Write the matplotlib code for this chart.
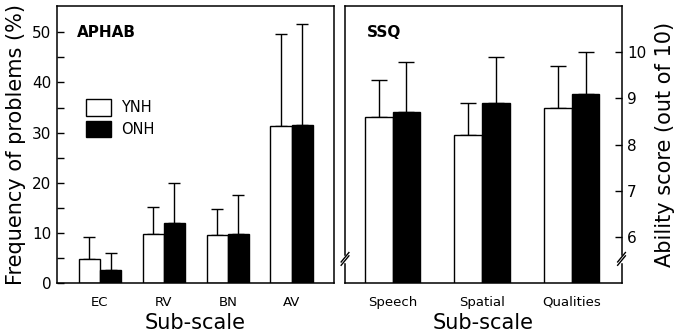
import numpy as np
import matplotlib
matplotlib.use("Agg")
from matplotlib import pyplot as plt

# APHAB sub-scales: mean and upper error (SD) per group
aphab_scales = ["EC", "RV", "BN", "AV"]
aphab_ynh = [4.8, 9.8, 9.6, 31.3]
aphab_ynh_sd = [4.4, 5.3, 5.2, 18.3]
aphab_onh = [2.6, 12.1, 9.8, 31.6]
aphab_onh_sd = [3.5, 7.9, 7.8, 20.1]

# SSQ sub-scales
ssq_scales = ["Speech", "Spatial", "Qualities"]
ssq_ynh = [8.6, 8.2, 8.8]
ssq_ynh_sd = [0.8, 0.7, 0.9]
ssq_onh = [8.7, 8.9, 9.1]
ssq_onh_sd = [1.1, 1.0, 0.9]

plt.rcParams["font.family"] = "DejaVu Sans"
plt.rcParams["axes.linewidth"] = 1.1

fig = plt.figure(figsize=(6.8, 3.32), dpi=100)
ax1 = fig.add_axes([0.0838, 0.1467, 0.4074, 0.835])
ax2 = fig.add_axes([0.5074, 0.1467, 0.4066, 0.835])


def draw_bars(ax, n, ynh, ynh_sd, onh, onh_sd, width, cap):
    x = np.arange(n)
    b1 = ax.bar(x - width / 2, ynh, width, color="white", edgecolor="black",
                linewidth=1.0, label="YNH", zorder=2)
    b2 = ax.bar(x + width / 2, onh, width, color="black", edgecolor="black",
                linewidth=1.0, label="ONH", zorder=2)
    ax.errorbar(x - width / 2, ynh, yerr=[np.zeros(n), ynh_sd], fmt="none",
                ecolor="black", elinewidth=1.0, capsize=cap, capthick=1.0, zorder=1)
    ax.errorbar(x + width / 2, onh, yerr=[np.zeros(n), onh_sd], fmt="none",
                ecolor="black", elinewidth=1.0, capsize=cap, capthick=1.0, zorder=1)
    return b1, b2


# left panel - APHAB
b1, b2 = draw_bars(ax1, len(aphab_scales), aphab_ynh, aphab_ynh_sd,
                   aphab_onh, aphab_onh_sd, 0.333, 4.3)
ax1.set_xlim(-0.67, 3.66)
ax1.set_ylim(0, 55.2)
ax1.set_yticks(np.arange(0, 51, 10))
ax1.set_yticks(np.arange(5, 55, 10), minor=True)
ax1.set_xticks(np.arange(len(aphab_scales)))
ax1.set_xticklabels(aphab_scales, fontsize=9.5)
ax1.tick_params(axis="y", which="both", direction="in", length=5, width=1.0,
                labelsize=11, pad=4)
ax1.tick_params(axis="x", length=0, pad=9)
ax1.set_ylabel("Frequency of problems (%)", fontsize=15, labelpad=4)
ax1.set_xlabel("Sub-scale", fontsize=15, labelpad=3)
ax1.text(0.071, 0.905, "APHAB", transform=ax1.transAxes, fontsize=11,
         fontweight="bold", va="center", ha="left")
ax1.legend(handles=[b1, b2], loc="upper left", bbox_to_anchor=(0.078, 0.69),
           frameon=False, fontsize=10.5, borderpad=0, handlelength=1.75,
           handleheight=1.35, labelspacing=0.35, handletextpad=0.65)

# right panel - SSQ
draw_bars(ax2, len(ssq_scales), ssq_ynh, ssq_ynh_sd, ssq_onh, ssq_onh_sd, 0.31, 5.8)
ax2.set_xlim(-0.53, 2.556)
ax2.set_ylim(5, 11.0)
ax2.yaxis.tick_right()
ax2.yaxis.set_label_position("right")
ax2.set_yticks(np.arange(6, 11, 1))
ax2.set_xticks(np.arange(len(ssq_scales)))
ax2.set_xticklabels(ssq_scales, fontsize=9.5)
ax2.tick_params(axis="y", direction="in", length=5, width=1.0, labelsize=11, pad=4)
ax2.tick_params(axis="x", length=0, pad=9)
ax2.set_ylabel("Ability score (out of 10)", fontsize=15, labelpad=6)
ax2.set_xlabel("Sub-scale", fontsize=15, labelpad=3)
ax2.text(0.078, 0.905, "SSQ", transform=ax2.transAxes, fontsize=11,
         fontweight="bold", va="center", ha="left")

# axis-break marks on both vertical spines of the SSQ panel
yb = 0.088
dx, dy, gap = 0.028, 0.034, 0.012
for xs in (0.0, 1.0):
    ax2.plot([xs, xs], [yb - gap / 2, yb + gap / 2], color="white",
             lw=2.5, transform=ax2.transAxes, clip_on=False, zorder=5)
    for off in (-gap / 2, gap / 2):
        ax2.plot([xs - dx / 2, xs + dx / 2], [yb + off - dy / 2, yb + off + dy / 2],
                 color="black", lw=1.0, transform=ax2.transAxes, clip_on=False, zorder=6)

fig.savefig("out.png", dpi=100)
